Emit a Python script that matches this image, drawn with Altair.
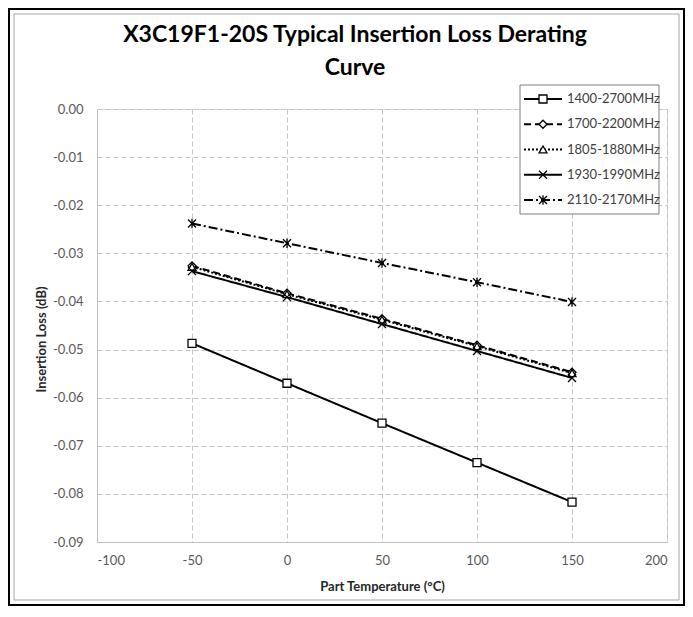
import altair as alt
import pandas as pd

TEMPS = [-50, 0, 50, 100, 150]
SERIES = ["1400-2700MHz", "1700-2200MHz", "1805-1880MHz", "1930-1990MHz", "2110-2170MHz"]
LOSS_1400 = [-0.0487, -0.0570, -0.0653, -0.0735, -0.0817]
LOSS_1700 = [-0.0326, -0.0383, -0.0436, -0.0491, -0.0547]
LOSS_1805 = [-0.0328, -0.0385, -0.0438, -0.0493, -0.0549]
LOSS_1930 = [-0.0337, -0.0391, -0.0447, -0.0503, -0.0559]
LOSS_2110 = [-0.0238, -0.0279, -0.0320, -0.0360, -0.0401]
X_TICKS = [-100, -50, 0, 50, 100, 150, 200]
Y_TICKS = [0.0, -0.01, -0.02, -0.03, -0.04, -0.05, -0.06, -0.07, -0.08, -0.09]

TITLE = ["X3C19F1-20S Typical Insertion Loss Derating", "Curve"]
X_TITLE = "Part Temperature (\u00b0C)"
Y_TITLE = "Insertion Loss (dB)"

rows = []
for s, vals in zip(SERIES, [LOSS_1400, LOSS_1700, LOSS_1805, LOSS_1930, LOSS_2110]):
    for t, v in zip(TEMPS, vals):
        rows.append({"series": s, "temp": t, "loss": v})
df = pd.DataFrame(rows)
legend_df = pd.DataFrame({"series": SERIES})
one = pd.DataFrame({"k": [0]})

FONT = "Lato"
DASHES = [[1, 0], [7, 4], [2, 2], [1, 0], [9, 3, 2, 3]]
X_PATH = "M-1,-1L1,1M-1,1L1,-1"
STAR_PATH = "M-1,-1L1,1M-1,1L1,-1M0,-1.2L0,1.2"
SHAPES = ["square", "diamond", "triangle-up", X_PATH, STAR_PATH]

dash_scale = alt.Scale(domain=SERIES, range=DASHES)
shape_scale = alt.Scale(domain=SERIES, range=SHAPES)

x_enc = alt.X(
    "temp:Q",
    scale=alt.Scale(domain=[-100, 200], nice=False, zero=False),
    axis=alt.Axis(
        values=X_TICKS, title=X_TITLE,
        labelExpr="replace(format(datum.value, 'd'), '\u2212', '-')",
        ticks=False, domainColor="#bfbfbf", labelPadding=12,
        labelFontSize=13, labelColor="#595959", labelFont=FONT,
        titleFont=FONT, titleFontSize=13, titleFontWeight="bold", titleColor="#262626",
        titlePadding=13,
        gridDash=[5, 3], gridColor="#c4c4c4",
    ),
)
y_enc = alt.Y(
    "loss:Q",
    scale=alt.Scale(domain=[-0.09, 0], nice=False, zero=False),
    axis=alt.Axis(
        values=Y_TICKS, title=Y_TITLE,
        labelExpr="replace(format(datum.value, '.2f'), '\u2212', '-')",
        ticks=False, domainColor="#bfbfbf", labelPadding=14,
        labelFontSize=13, labelColor="#595959", labelFont=FONT,
        titleFont=FONT, titleFontSize=13, titleFontWeight="bold", titleColor="#262626",
        titleX=-56, titleY=230, titleBaseline="middle",
        gridDash=[5, 3], gridColor="#c4c4c4",
    ),
)

outer = alt.Chart(one).mark_rect(fillOpacity=0, stroke="black", strokeWidth=2).encode(
    x=alt.value(-88), x2=alt.value(587), y=alt.value(-100), y2=alt.value(496)
)
inner = alt.Chart(one).mark_rect(fillOpacity=0, stroke="#a6a6a6", strokeWidth=1).encode(
    x=alt.value(-83), x2=alt.value(582), y=alt.value(-95), y2=alt.value(491)
)

lines = alt.Chart(df).mark_line(color="black", strokeWidth=2).encode(
    x=x_enc, y=y_enc,
    strokeDash=alt.StrokeDash("series:N", scale=dash_scale, legend=None),
    detail="series:N",
)
points = alt.Chart(df).mark_point(
    filled=True, fill="white", stroke="black", strokeWidth=1.3, size=64, opacity=1
).encode(
    x="temp:Q", y="loss:Q",
    shape=alt.Shape("series:N", scale=shape_scale, legend=None),
)
main = alt.layer(lines, points)

leg_y = alt.Y("series:N", scale=alt.Scale(type="point", domain=SERIES, range=[-10, 91], padding=0), axis=None)
leg_box = alt.Chart(one).mark_rect(fill="white", stroke="#7f7f7f", strokeWidth=1).encode(
    x=alt.value(423), x2=alt.value(562), y=alt.value(-24), y2=alt.value(105)
)
leg_rules = alt.Chart(legend_df).mark_rule(color="black", strokeWidth=2).encode(
    x=alt.value(427), x2=alt.value(465), y=leg_y,
    strokeDash=alt.StrokeDash("series:N", scale=dash_scale, legend=None),
)
leg_pts = alt.Chart(legend_df).mark_point(
    filled=True, fill="white", stroke="black", strokeWidth=1.3, size=64, opacity=1
).encode(
    x=alt.value(446), y=leg_y,
    shape=alt.Shape("series:N", scale=shape_scale, legend=None),
)
leg_text = alt.Chart(legend_df).mark_text(
    align="left", baseline="middle", font=FONT, fontSize=13, color="#404040"
).encode(x=alt.value(470), y=leg_y, text="series:N")

chart = alt.layer(
    outer, inner, main, leg_box, leg_rules, leg_pts, leg_text
).resolve_scale(y="independent").properties(
    width=570, height=433,
    padding={"left": 89, "top": 101, "right": 18, "bottom": 64},
    autosize=alt.AutoSizeParams(type="none"),
    title=alt.TitleParams(
        TITLE, font=FONT, fontSize=23, fontWeight="bold", color="#000000",
        anchor="middle", dx=-27, offset=24, dy=96, lineHeight=33,
    ),
).configure_view(stroke="#bfbfbf", strokeWidth=1).configure(background="white")

chart.save("out.html", embed_options={"renderer": "svg", "actions": False})
